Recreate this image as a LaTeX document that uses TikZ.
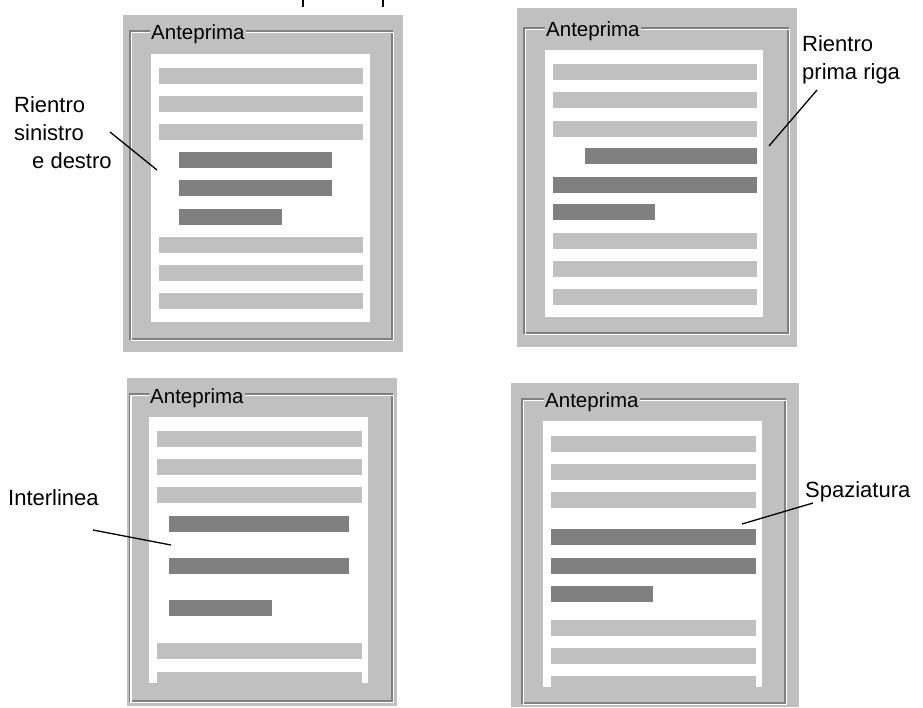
\documentclass[tikz,border=0pt]{standalone}
\usepackage{fontspec}
\setmainfont{Liberation Sans}
\definecolor{bgray}{HTML}{C0C0C0}
\definecolor{dgray}{HTML}{808080}
\begin{document}
\begin{tikzpicture}[x=1pt,y=-1pt,
  outer/.style={fill=bgray},
  pagebox/.style={fill=white},
  lbar/.style={fill=bgray},
  dbar/.style={fill=dgray},
  groovedark/.style={draw=dgray,line width=1.3pt},
  groovelight/.style={draw=white,line width=1.3pt},
  title/.style={fill=bgray,inner xsep=1pt,inner ysep=0.5pt,anchor=base west,font=\fontsize{20.5}{20.5}\selectfont},
  lab/.style={anchor=base west,inner sep=0pt,font=\fontsize{22}{22}\selectfont},
  leader/.style={draw=black,line width=1.3pt}
]
\useasboundingbox[fill=white] (0,0) rectangle (923,707);

% cut-off fragments at top (descenders of a cropped line)
\fill[black] (302,0) rectangle (303.6,7);
\fill[black] (382.4,0) rectangle (384,7);

% ---------- Panel 1 ----------
\fill[outer] (123,15) rectangle (403,352);
\draw[groovedark] (130,31) rectangle (392,339);
\draw[groovelight] (131.5,32.5) rectangle (393.5,340.5);
\fill[pagebox] (151,54) rectangle (370,322);
\foreach \t in {68,96,124,237,265,293} \fill[lbar] (159,\t) rectangle (363,\t+16);
\fill[dbar] (179,152) rectangle (332,168);
\fill[dbar] (179,180) rectangle (332,196);
\fill[dbar] (179,209) rectangle (282,225);
\node[title] (t1) at (150,39) {Anteprima};
\node[lab] (l1a) at (14,112) {Rientro};
\node[lab] (l1b) at (14,140) {sinistro};
\node[lab] (l1c) at (32,168) {e destro};
\coordinate (l1s) at (110,132);
\coordinate (l1e) at (157,170);
\draw[leader] (l1s) -- (l1e);

% ---------- Panel 2 ----------
\fill[outer] (517,8) rectangle (797,347);
\draw[groovedark] (524,28) rectangle (788,333);
\draw[groovelight] (525.5,29.5) rectangle (789.5,334.5);
\fill[pagebox] (545,50) rectangle (763,317);
\foreach \t in {64,92,121,233,261,289} \fill[lbar] (553,\t) rectangle (757,\t+16);
\fill[dbar] (585,148) rectangle (757,164);
\fill[dbar] (553,177) rectangle (757,193);
\fill[dbar] (553,204) rectangle (655,220);
\node[title] (t2) at (545,36) {Anteprima};
\node[lab] (l2a) at (802,51) {Rientro};
\node[lab] (l2b) at (802,79) {prima riga};
\coordinate (l2s) at (817,90);
\coordinate (l2e) at (769,146);
\draw[leader] (l2s) -- (l2e);

% ---------- Panel 3 ----------
\fill[outer] (127,378) rectangle (397,706);
\draw[groovedark] (129.5,394) rectangle (392,701);
\draw[groovelight] (131,395.5) rectangle (393.5,702.5);
\fill[pagebox] (149,417) rectangle (368,683);
\foreach \t in {431,459,487,643} \fill[lbar] (157,\t) rectangle (362,\t+16);
\fill[lbar] (157,672) rectangle (362,684);
\fill[dbar] (169,516) rectangle (349,532);
\fill[dbar] (169,558) rectangle (349,574);
\fill[dbar] (169,600) rectangle (272,616);
\node[title] (t3) at (149,403) {Anteprima};
\node[lab] (l3) at (8,505) {Interlinea};
\coordinate (l3s) at (93,530);
\coordinate (l3e) at (171,545);
\draw[leader] (l3s) -- (l3e);

% ---------- Panel 4 ----------
\fill[outer] (511,383) rectangle (799,707);
\draw[groovedark] (522,399) rectangle (785,703);
\draw[groovelight] (523.5,400.5) rectangle (786.5,704.5);
\fill[pagebox] (543,421) rectangle (762,687);
\foreach \t in {436,464,492,620,648} \fill[lbar] (551,\t) rectangle (756,\t+16);
\fill[lbar] (551,676) rectangle (756,688);
\fill[dbar] (551,529) rectangle (756,545);
\fill[dbar] (551,558) rectangle (756,574);
\fill[dbar] (551,586) rectangle (653,602);
\node[title] (t4) at (544,407) {Anteprima};
\node[lab] (l4) at (805,497) {Spaziatura};
\coordinate (l4s) at (813,503);
\coordinate (l4e) at (742,524);
\draw[leader] (l4s) -- (l4e);
\end{tikzpicture}
\end{document}
